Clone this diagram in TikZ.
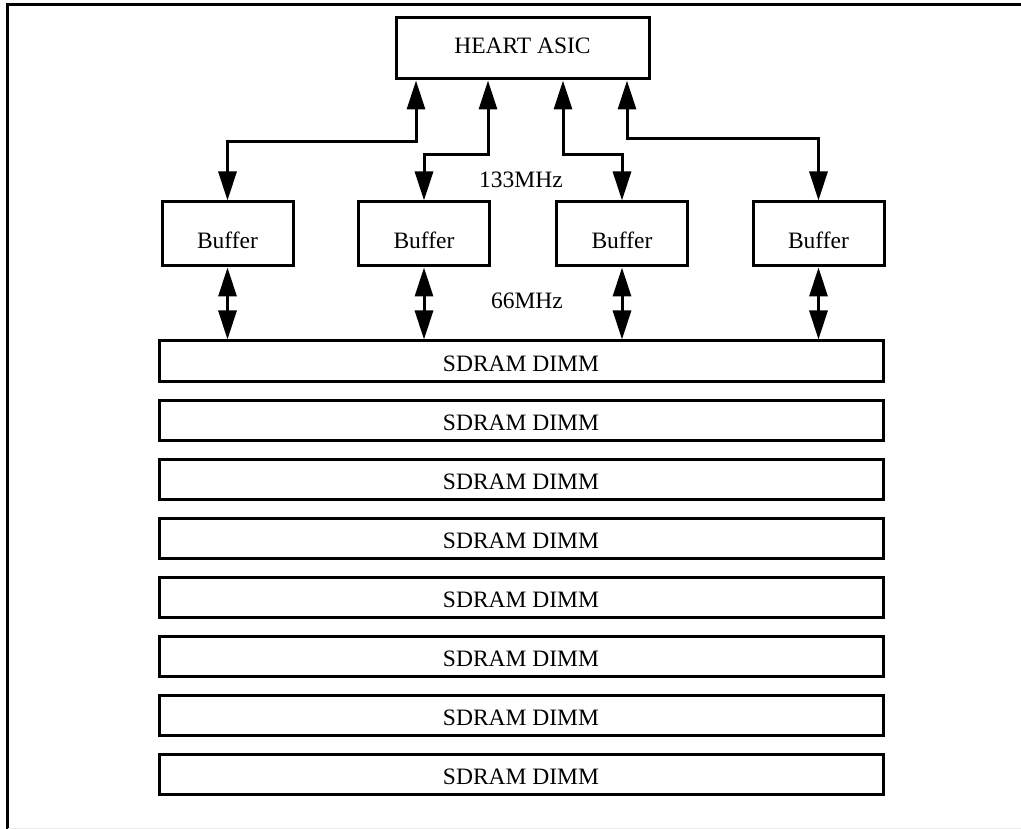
\documentclass[tikz,border=0pt]{standalone}
\usepackage{fontspec}
\setmainfont{Liberation Serif}
\usetikzlibrary{arrows.meta}
\begin{document}
\begin{tikzpicture}[x=1pt,y=-1pt,
  box/.style={draw, line width=3pt, inner sep=0pt, font=\fontsize{23.5}{28}\selectfont},
  chip/.style={box, minimum width=253pt, minimum height=61pt, text height=15.5pt, text depth=6pt},
  buf/.style={box, minimum width=131pt, minimum height=64pt, text height=29.5pt, text depth=0pt},
  dimm/.style={box, minimum width=724pt, minimum height=40pt, text height=21.5pt, text depth=0pt},
  lbl/.style={inner sep=0pt, font=\fontsize{23.5}{28}\selectfont},
  bus/.style={line width=3pt, {Triangle[length=29pt,width=18pt]}-{Triangle[length=29pt,width=18pt]}}
]
\useasboundingbox (0,0) rectangle (1021,829);
% outer frame
\draw[line width=3pt] (7.5,829) -- (7.5,4.2) -- (1021,4.2);
\draw[gray!15, line width=1pt] (7.5,828.3) -- (1021,828.3);

% controller and buffers
\node[chip] (heart) at (522.5,48.5) {HEART ASIC};
\node[buf] (b1) at (227.5,234) {Buffer};
\node[buf] (b2) at (424,234) {Buffer};
\node[buf] (b3) at (622,234) {Buffer};
\node[buf] (b4) at (818.5,234) {Buffer};

% memory modules
\foreach \i in {1,...,8} {
  \node[dimm] (d\i) at (521,{361+59*(\i-1)}) {SDRAM DIMM};
}

% 133 MHz links
\draw[bus] ([xshift=-106.5pt]heart.south) -- ++(0,61) -| (b1.north);
\draw[bus] ([xshift=-34.5pt]heart.south) -- ++(0,74) -| (b2.north);
\draw[bus] ([xshift=40.5pt]heart.south) -- ++(0,74) -| (b3.north);
\draw[bus] ([xshift=104.5pt]heart.south) -- ++(0,58) -| (b4.north);

% 66 MHz links
\foreach \b in {b1,b2,b3,b4} {
  \draw[bus] (\b.south) -- (\b.south |- d1.north);
}

\node[lbl] (f133) at (521,180) {133MHz};
\node[lbl] (f66) at (527,301) {66MHz};
\end{tikzpicture}
\end{document}
